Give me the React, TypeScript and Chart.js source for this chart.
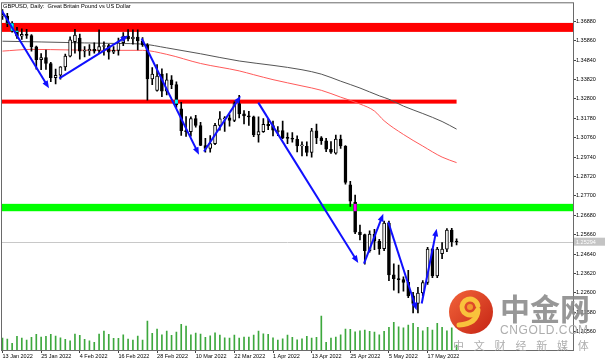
import React, { useEffect, useRef } from 'react';
import { Chart, registerables } from 'chart.js';

Chart.register(...registerables);

const TITLE = 'GBPUSD, Daily:  Great Britain Pound vs US Dollar';

const DATES = [
  '13 Jan 2022','14 Jan 2022','17 Jan 2022','18 Jan 2022','19 Jan 2022','20 Jan 2022','21 Jan 2022','24 Jan 2022','25 Jan 2022','26 Jan 2022','27 Jan 2022','28 Jan 2022','31 Jan 2022',
  '1 Feb 2022','2 Feb 2022','3 Feb 2022','4 Feb 2022','7 Feb 2022','8 Feb 2022','9 Feb 2022','10 Feb 2022','11 Feb 2022','14 Feb 2022','15 Feb 2022','16 Feb 2022','17 Feb 2022','18 Feb 2022','21 Feb 2022','22 Feb 2022','23 Feb 2022','24 Feb 2022','25 Feb 2022','28 Feb 2022',
  '1 Mar 2022','2 Mar 2022','3 Mar 2022','4 Mar 2022','7 Mar 2022','8 Mar 2022','9 Mar 2022','10 Mar 2022','11 Mar 2022','14 Mar 2022','15 Mar 2022','16 Mar 2022','17 Mar 2022','18 Mar 2022','21 Mar 2022','22 Mar 2022','23 Mar 2022','24 Mar 2022','25 Mar 2022','28 Mar 2022','29 Mar 2022','30 Mar 2022','31 Mar 2022',
  '1 Apr 2022','4 Apr 2022','5 Apr 2022','6 Apr 2022','7 Apr 2022','8 Apr 2022','11 Apr 2022','12 Apr 2022','13 Apr 2022','14 Apr 2022','15 Apr 2022','18 Apr 2022','19 Apr 2022','20 Apr 2022','21 Apr 2022','22 Apr 2022','25 Apr 2022','26 Apr 2022','27 Apr 2022','28 Apr 2022','29 Apr 2022',
  '2 May 2022','3 May 2022','4 May 2022','5 May 2022','6 May 2022','9 May 2022','10 May 2022','11 May 2022','12 May 2022','13 May 2022','16 May 2022','17 May 2022','18 May 2022','19 May 2022','20 May 2022','23 May 2022','24 May 2022','25 May 2022',
];

const OPEN = [
  1.3714,1.3715,1.3677,1.3638,1.3609,1.3619,1.3613,1.3554,1.3486,1.3497,
  1.3466,1.3391,1.3404,1.3448,1.3505,1.3580,1.3600,1.3530,1.3533,1.3540,
  1.3535,1.3555,1.3560,1.3525,1.3535,1.3575,1.3610,1.3595,1.3605,1.3585,
  1.3563,1.3385,1.3325,1.3410,1.3320,1.3380,1.3355,1.3228,1.3113,1.3107,
  1.3177,1.3140,1.3035,1.3020,1.3045,1.3141,1.3175,1.3180,1.3167,1.3255,
  1.3201,1.3190,1.3185,1.3091,1.3108,1.3146,1.3139,1.3108,1.3114,1.3075,
  1.3072,1.3068,1.3033,1.3030,1.2999,1.3112,1.3075,1.3060,1.3015,1.2995,
  1.3069,1.3030,1.2828,1.2737,1.2580,1.2567,1.2482,1.2570,1.2532,1.2493,
  1.2627,1.2355,1.2335,1.2330,1.2316,1.2245,1.2205,1.2260,1.2315,1.2490,
  1.2350,1.2467,1.2490,1.2590,1.2530,
];
const HIGH = [
  1.3749,1.3730,1.3686,1.3656,1.3648,1.3646,1.3618,1.3558,1.3518,1.3537,
  1.3472,1.3437,1.3450,1.3515,1.3606,1.3646,1.3620,1.3555,1.3565,1.3575,
  1.3643,1.3580,1.3566,1.3555,1.3600,1.3628,1.3644,1.3643,1.3643,1.3602,
  1.3570,1.3444,1.3460,1.3438,1.3413,1.3403,1.3370,1.3262,1.3187,1.3186,
  1.3194,1.3157,1.3072,1.3087,1.3152,1.3213,1.3187,1.3198,1.3264,1.3298,
  1.3218,1.3215,1.3190,1.3185,1.3176,1.3175,1.3163,1.3135,1.3163,1.3102,
  1.3103,1.3086,1.3054,1.3054,1.3125,1.3148,1.3082,1.3072,1.3056,1.3090,
  1.3090,1.3034,1.2847,1.2775,1.2617,1.2570,1.2587,1.2594,1.2542,1.2638,
  1.2638,1.2413,1.2406,1.2345,1.2379,1.2264,1.2290,1.2325,1.2500,1.2495,
  1.2500,1.2525,1.2598,1.2600,1.2545,
];
const LOW = [
  1.3697,1.3660,1.3630,1.3598,1.3592,1.3597,1.3530,1.3436,1.3434,1.3435,
  1.3371,1.3358,1.3383,1.3430,1.3500,1.3520,1.3488,1.3500,1.3508,1.3520,
  1.3520,1.3510,1.3488,1.3517,1.3510,1.3560,1.3584,1.3568,1.3537,1.3556,
  1.3273,1.3355,1.3320,1.3292,1.3301,1.3334,1.3235,1.3088,1.3083,1.3084,
  1.3131,1.3034,1.3000,1.3000,1.3039,1.3115,1.3109,1.3137,1.3160,1.3180,
  1.3149,1.3140,1.3081,1.3052,1.3104,1.3118,1.3085,1.3087,1.3071,1.3045,
  1.3053,1.3001,1.2980,1.2980,1.2973,1.3045,1.3041,1.3002,1.2993,1.2990,
  1.3019,1.2832,1.2715,1.2571,1.2539,1.2411,1.2474,1.2488,1.2462,1.2482,
  1.2325,1.2275,1.2260,1.2270,1.2235,1.2155,1.2155,1.2245,1.2305,1.2340,
  1.2340,1.2440,1.2477,1.2505,1.2512,
];
const CLOSE = [
  1.3715,1.3677,1.3638,1.3609,1.3619,1.3613,1.3554,1.3486,1.3497,1.3466,
  1.3391,1.3404,1.3448,1.3505,1.3590,1.3615,1.3530,1.3533,1.3540,1.3530,
  1.3555,1.3560,1.3525,1.3535,1.3575,1.3610,1.3595,1.3605,1.3585,1.3563,
  1.3385,1.3410,1.3400,1.3320,1.3380,1.3355,1.3250,1.3113,1.3107,1.3177,
  1.3140,1.3035,1.3020,1.3045,1.3141,1.3175,1.3180,1.3167,1.3255,1.3201,
  1.3190,1.3185,1.3091,1.3108,1.3146,1.3139,1.3115,1.3114,1.3075,1.3072,
  1.3068,1.3033,1.3037,1.2999,1.3112,1.3075,1.3060,1.3015,1.3000,1.3069,
  1.3033,1.2841,1.2742,1.2580,1.2567,1.2482,1.2570,1.2532,1.2493,1.2627,
  1.2355,1.2335,1.2330,1.2316,1.2245,1.2205,1.2260,1.2315,1.2490,1.2350,
  1.2490,1.2490,1.2590,1.2530,1.2528,
];
const VOLUME = [
  120,110,67,137,120,100,127,157,130,137,
  157,140,123,107,93,160,147,107,93,77,
  160,190,157,117,117,153,110,100,140,100,
  290,167,210,153,190,147,180,257,240,153,
  170,160,127,143,173,150,123,120,150,120,
  130,130,150,190,163,157,123,100,113,150,
  127,103,113,137,120,127,340,77,120,130,
  153,210,207,183,193,200,187,180,153,187,
  227,277,233,223,250,267,227,193,227,200,
  267,227,193,223,50,
];

// moving averages, read at these bars
const MA_SLOW_BARS = [0, 8, 17, 24, 29, 34, 41, 49, 56, 62, 66, 70, 74, 78, 80, 83, 87, 91, 94];
const MA_SLOW = [1.3583,1.3579,1.3574,1.3571,1.3568,1.3548,1.3517,1.3479,1.3456,1.3433,1.3410,1.3373,1.3337,1.3296,1.3278,1.3242,1.3203,1.3161,1.3121];
const MA_FAST_BARS = [0, 6, 14, 20, 29, 34, 41, 49, 52, 56, 62, 66, 70, 74, 77, 79, 83, 87, 91, 94];
const MA_FAST = [1.3531,1.3540,1.3537,1.3535,1.3535,1.3514,1.3466,1.3427,1.3407,1.3381,1.3348,1.3325,1.3289,1.3253,1.3216,1.3165,1.3093,1.3032,1.2974,1.2945];

const PRICE_TICKS = [1.3688,1.3586,1.3484,1.3382,1.328,1.3178,1.3076,1.2974,1.2872,1.277,1.2668,1.2566,1.2464,1.2362,1.226,1.2158,1.2056];
const DATE_TICK_BARS = [0, 8, 16, 24, 32, 40, 48, 56, 64, 72, 80, 88];

// horizontal zones (price ranges); null = runs to the right edge
const BAND_HIGH = [1.36791, 1.32760, 1.27283];
const BAND_LOW = [1.36320, 1.32550, 1.26896];
const BAND_LAST_BAR = [null, 94, null];

// drawn trend arrows (bar, price)
const ARROW_FROM_BAR = [-0.16, 11.76, 28.82, 41.71, 52.95, 74.83, 79.86, 86.78];
const ARROW_FROM_PRICE = [1.3744, 1.3388, 1.35974, 1.30037, 1.32602, 1.24142, 1.2632, 1.22047];
const ARROW_TO_BAR = [9.63, 26.04, 40.68, 49.31, 73.65, 78.83, 85.74, 89.88];
const ARROW_TO_PRICE = [1.33356, 1.36131, 1.29864, 1.32953, 1.24173, 1.2676, 1.21697, 1.25974];

const CURRENT_PRICE = 1.25294;

const Y_MIN = 1.19603;
const Y_MAX = 1.37822;
const X_MIN = -0.1;
const X_MAX = 118.1;

const BAND_COLORS = ['#ff0000', '#ff0000', '#00ff00'];
const BAND_INVERT = ['#00ffff', '#00ffff', '#ff00ff'];
const FONT = '"Liberation Sans", Arial, sans-serif';

const overlayPlugin = {
  id: 'mtOverlay',
  beforeDatasetsDraw(chart: any) {
    const { ctx, chartArea: a, scales } = chart;
    const x = scales.x, y = scales.y;
    ctx.save();
    ctx.beginPath();
    ctx.rect(a.left, a.top, a.right - a.left, a.bottom - a.top);
    ctx.clip();
    const py = Math.round(y.getPixelForValue(CURRENT_PRICE)) + 0.5;
    ctx.strokeStyle = '#c8c8c8';
    ctx.lineWidth = 1;
    ctx.beginPath();
    ctx.moveTo(a.left, py);
    ctx.lineTo(a.right, py);
    ctx.stroke();
    BAND_HIGH.forEach((hi, k) => {
      const y0 = y.getPixelForValue(hi);
      const y1 = y.getPixelForValue(BAND_LOW[k]);
      const last = BAND_LAST_BAR[k];
      const xr = last == null ? a.right : x.getPixelForValue(last);
      ctx.fillStyle = BAND_COLORS[k];
      ctx.fillRect(a.left, y0, xr - a.left, y1 - y0);
    });
    ctx.restore();
  },
  afterDatasetsDraw(chart: any) {
    const { ctx, chartArea: a, scales } = chart;
    const x = scales.x, y = scales.y;
    ctx.save();
    ctx.beginPath();
    ctx.rect(a.left, a.top, a.right - a.left, a.bottom - a.top);
    ctx.clip();
    // bear bodies inside zones look inverted
    CLOSE.forEach((c, i) => {
      const o = OPEN[i];
      if (c >= o) return;
      const cx = x.getPixelForValue(i);
      const top = y.getPixelForValue(o);
      const bot = y.getPixelForValue(c);
      BAND_HIGH.forEach((hi, k) => {
        const last = BAND_LAST_BAR[k];
        if (last != null && i > last) return;
        const b0 = y.getPixelForValue(hi);
        const b1 = y.getPixelForValue(BAND_LOW[k]);
        const t = Math.max(top, b0);
        const bm = Math.min(bot, b1);
        if (bm > t) {
          ctx.fillStyle = BAND_INVERT[k];
          ctx.fillRect(cx - 1.5, t, 3, bm - t);
        }
      });
    });
    // arrows
    ctx.strokeStyle = '#1010ff';
    ctx.fillStyle = '#1010ff';
    ctx.lineWidth = 2;
    ctx.lineCap = 'butt';
    ARROW_FROM_BAR.forEach((fb, k) => {
      const x0 = x.getPixelForValue(fb);
      const y0 = y.getPixelForValue(ARROW_FROM_PRICE[k]);
      const x1 = x.getPixelForValue(ARROW_TO_BAR[k]);
      const y1 = y.getPixelForValue(ARROW_TO_PRICE[k]);
      const ang = Math.atan2(y1 - y0, x1 - x0);
      const L = 7.5, W = 3;
      const cs = Math.cos(ang), sn = Math.sin(ang);
      const bx = x1 - L * cs, by = y1 - L * sn;
      ctx.beginPath();
      ctx.moveTo(x0, y0);
      ctx.lineTo(bx + 1 * cs, by + 1 * sn);
      ctx.stroke();
      ctx.beginPath();
      ctx.moveTo(x1, y1);
      ctx.lineTo(bx + W * sn, by - W * cs);
      ctx.lineTo(bx - W * sn, by + W * cs);
      ctx.closePath();
      ctx.fill();
    });
    ctx.restore();
  },
  afterDraw(chart: any) {
    const { ctx, chartArea: a, scales, width } = chart;
    const y = scales.y;
    ctx.save();
    // frame
    ctx.strokeStyle = '#6a6a6a';
    ctx.lineWidth = 1;
    ctx.strokeRect(a.left - 0.5, a.top - 0.5, a.right - a.left + 1, a.bottom - a.top + 1);
    // title
    ctx.fillStyle = '#000';
    ctx.font = `5.7px ${FONT}`;
    ctx.textBaseline = 'middle';
    ctx.textAlign = 'left';
    ctx.fillText(TITLE, 3, 6.5);
    // current price tag
    const py = y.getPixelForValue(CURRENT_PRICE);
    ctx.fillStyle = '#c4c4c4';
    ctx.fillRect(a.right + 1, py - 4, width - a.right - 1, 8);
    ctx.fillStyle = '#fff';
    ctx.font = `5.5px ${FONT}`;
    ctx.fillText(CURRENT_PRICE.toFixed(5), a.right + 3, py + 0.3);
    // watermark logo
    const cx = 471, cy = 312, r = 22;
    const g = ctx.createLinearGradient(cx - r, cy - r, cx + r, cy + r);
    g.addColorStop(0, '#f2643a');
    g.addColorStop(1, '#c52414');
    ctx.fillStyle = g;
    ctx.beginPath();
    ctx.arc(cx, cy, r, 0, Math.PI * 2);
    ctx.fill();
    ctx.strokeStyle = '#f9c23c';
    ctx.lineWidth = 5;
    ctx.lineCap = 'round';
    ctx.beginPath();
    ctx.arc(cx - 1, cy - 5, 8, Math.PI * 0.15, Math.PI * 1.95);
    ctx.stroke();
    ctx.beginPath();
    ctx.moveTo(cx + 7, cy - 2);
    ctx.quadraticCurveTo(cx + 6, cy + 12, cx - 12, cy + 13);
    ctx.stroke();
    ctx.fillStyle = '#f29a2e';
    ctx.beginPath();
    ctx.arc(cx - 1, cy - 5, 3, 0, Math.PI * 2);
    ctx.fill();
    // watermark text
    ctx.textBaseline = 'middle';
    ctx.fillStyle = 'rgba(140,140,140,0.9)';
    ctx.font = 'bold 30px "Noto Sans CJK SC", sans-serif';
    ctx.fillText('中金网', 500, 309);
    ctx.fillStyle = 'rgba(165,165,165,0.9)';
    ctx.font = `12px ${FONT}`;
    (ctx as any).letterSpacing = '0.6px';
    ctx.fillText('CNGOLD.COM', 500, 331);
    (ctx as any).letterSpacing = '0px';
    ctx.font = '11px "Noto Sans CJK SC", sans-serif';
    const sub = '中文财经新媒体';
    for (let k = 0; k < sub.length; k++) {
      ctx.fillText(sub[k], 453 + k * 20.8, 345.5);
    }
    ctx.restore();
  },
};

export default function App() {
  const ref = useRef<HTMLCanvasElement>(null);
  useEffect(() => {
    document.body.style.margin = '0';
    const bars = DATES.map((_, i) => i);
    const bull = bars.map((i) => CLOSE[i] >= OPEN[i]);
    const chart = new Chart(ref.current as HTMLCanvasElement, {
      type: 'bar',
      data: {
        datasets: [
          {
            type: 'bar',
            label: 'body',
            data: bars.map((i) => ({ x: i, y: [OPEN[i], CLOSE[i]] })) as any,
            barThickness: 3,
            backgroundColor: bull.map((b) => (b ? '#ffffff' : '#000000')),
            borderColor: '#000000',
            borderWidth: 1,
            borderSkipped: false,
            minBarLength: 1,
            grouped: false,
            order: 0,
            yAxisID: 'y',
          } as any,
          {
            type: 'bar',
            label: 'wick',
            data: bars.map((i) => ({ x: i, y: [LOW[i], HIGH[i]] })) as any,
            barThickness: 1,
            backgroundColor: '#000000',
            borderWidth: 0,
            grouped: false,
            order: 1,
            yAxisID: 'y',
          } as any,
          {
            type: 'line',
            label: 'MA fast',
            data: MA_FAST_BARS.map((b, k) => ({ x: b, y: MA_FAST[k] })),
            borderColor: '#ff5a5a',
            borderWidth: 1,
            pointRadius: 0,
            cubicInterpolationMode: 'monotone',
            fill: false,
            order: 2,
            yAxisID: 'y',
          } as any,
          {
            type: 'line',
            label: 'MA slow',
            data: MA_SLOW_BARS.map((b, k) => ({ x: b, y: MA_SLOW[k] })),
            borderColor: '#555555',
            borderWidth: 1,
            pointRadius: 0,
            cubicInterpolationMode: 'monotone',
            fill: false,
            order: 3,
            yAxisID: 'y',
          } as any,
          {
            type: 'bar',
            label: 'volume',
            data: bars.map((i) => ({ x: i, y: VOLUME[i] })) as any,
            barThickness: 1,
            backgroundColor: '#3da83d',
            borderWidth: 0,
            grouped: false,
            order: 4,
            yAxisID: 'yv',
          } as any,
        ],
      },
      options: {
        responsive: false,
        animation: false,
        devicePixelRatio: 1,
        layout: { padding: { left: 2, top: 2, right: 0, bottom: 0 } },
        plugins: { legend: { display: false }, tooltip: { enabled: false }, title: { display: false } },
        scales: {
          x: {
            type: 'linear',
            min: X_MIN,
            max: X_MAX,
            offset: false,
            afterBuildTicks: (s: any) => {
              s.ticks = DATE_TICK_BARS.map((v) => ({ value: v }));
            },
            afterFit: (s: any) => {
              s.height = 13;
            },
            grid: { drawOnChartArea: false, drawTicks: true, tickLength: 3, color: '#444', offset: false },
            border: { display: false },
            ticks: {
              autoSkip: false,
              maxRotation: 0,
              minRotation: 0,
              align: 'start',
              padding: 0.5,
              color: '#000',
              font: { size: 5.5, family: FONT },
              callback: (v: any) => DATES[Math.round(Number(v))] ?? '',
            },
          },
          y: {
            type: 'linear',
            position: 'right',
            min: Y_MIN,
            max: Y_MAX,
            afterBuildTicks: (s: any) => {
              s.ticks = PRICE_TICKS.map((v) => ({ value: v }));
            },
            afterFit: (s: any) => {
              s.width = 32;
            },
            grid: { drawOnChartArea: false, drawTicks: true, tickLength: 3, color: '#444' },
            border: { display: false },
            ticks: {
              autoSkip: false,
              padding: 0,
              color: '#000',
              font: { size: 5.5, family: FONT },
              callback: (v: any) => Number(v).toFixed(5),
            },
          },
          yv: {
            type: 'linear',
            display: false,
            min: 0,
            max: 3480,
          },
        },
      } as any,
      plugins: [overlayPlugin],
    });
    return () => chart.destroy();
  }, []);
  return <canvas ref={ref} width={605} height={363} style={{ display: 'block', width: 605, height: 363 }} />;
}
